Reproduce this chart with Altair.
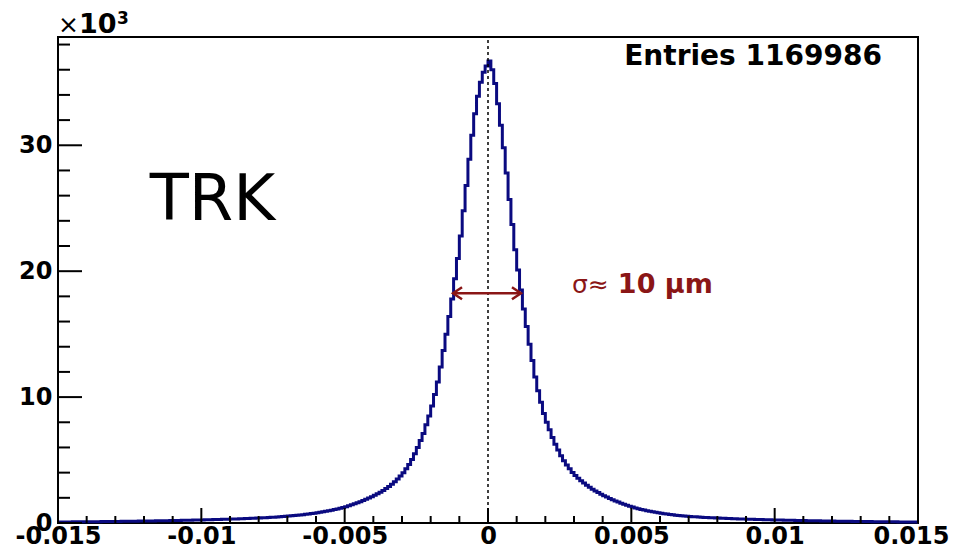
import altair as alt
import pandas as pd

# ---------------- data ----------------
x_min, x_max = -0.015, 0.015
bin_width = 0.0001

# bin contents (thousands of entries), from the bin next to 0 outwards
left_from_center = [
    36.3, 35.8, 35.0, 33.9, 32.5, 30.8, 28.9, 26.8, 24.8, 22.8,
    21.0, 19.4, 17.8, 16.4, 15.0, 13.7, 12.4, 11.2, 10.2, 9.3,
    8.5, 7.8, 7.1, 6.55, 6.0, 5.5, 5.05, 4.65, 4.3, 4.0,
    3.74, 3.5, 3.28, 3.08, 2.9, 2.74, 2.59, 2.45, 2.32, 2.2,
    2.09, 1.98, 1.88, 1.78, 1.69, 1.6, 1.52, 1.44, 1.37, 1.3,
    1.24, 1.18, 1.12, 1.07, 1.02, 0.97, 0.93, 0.89, 0.85, 0.81,
    0.78, 0.75, 0.72, 0.69, 0.66, 0.63, 0.61, 0.59, 0.57, 0.55,
    0.53, 0.51, 0.49, 0.48, 0.46, 0.45, 0.44, 0.42, 0.41, 0.4,
    0.39, 0.38, 0.37, 0.36, 0.35, 0.34, 0.33, 0.325, 0.32, 0.31,
    0.3, 0.295, 0.29, 0.28, 0.275, 0.27, 0.265, 0.26, 0.25, 0.245,
    0.24, 0.235, 0.23, 0.225, 0.22, 0.215, 0.21, 0.205, 0.2, 0.196,
    0.192, 0.188, 0.184, 0.18, 0.176, 0.172, 0.168, 0.164, 0.16, 0.156,
    0.152, 0.149, 0.146, 0.143, 0.14, 0.137, 0.134, 0.131, 0.128, 0.125,
    0.122, 0.119, 0.116, 0.113, 0.11, 0.108, 0.106, 0.104, 0.102, 0.1,
    0.098, 0.096, 0.094, 0.092, 0.09, 0.088, 0.086, 0.084, 0.082, 0.08,
]
right_from_center = [
    36.7, 36.0, 34.9, 33.3, 31.6, 29.8, 27.8, 25.7, 23.7, 21.7,
    20.1, 18.5, 17.0, 15.6, 14.2, 12.9, 11.6, 10.5, 9.6, 8.7,
    8.0, 7.4, 6.8, 6.25, 5.8, 5.35, 4.95, 4.6, 4.3, 4.02,
    3.78, 3.56, 3.36, 3.17, 3.0, 2.84, 2.69, 2.55, 2.42, 2.29,
    2.17, 2.06, 1.95, 1.85, 1.75, 1.66, 1.57, 1.49, 1.41, 1.34,
    1.27, 1.2, 1.14, 1.08, 1.03, 0.98, 0.93, 0.89, 0.85, 0.81,
    0.77, 0.74, 0.71, 0.68, 0.65, 0.62, 0.6, 0.58, 0.56, 0.54,
    0.52, 0.5, 0.49, 0.47, 0.46, 0.44, 0.43, 0.42, 0.41, 0.4,
    0.39, 0.38, 0.37, 0.36, 0.35, 0.34, 0.33, 0.32, 0.315, 0.31,
    0.3, 0.295, 0.29, 0.28, 0.275, 0.27, 0.26, 0.255, 0.25, 0.245,
    0.24, 0.235, 0.23, 0.225, 0.22, 0.215, 0.21, 0.205, 0.2, 0.195,
    0.19, 0.186, 0.182, 0.178, 0.174, 0.17, 0.166, 0.162, 0.158, 0.154,
    0.15, 0.147, 0.144, 0.141, 0.138, 0.135, 0.132, 0.129, 0.126, 0.123,
    0.12, 0.117, 0.114, 0.111, 0.108, 0.105, 0.103, 0.101, 0.099, 0.097,
    0.095, 0.093, 0.091, 0.089, 0.087, 0.085, 0.083, 0.081, 0.08, 0.078,
]

x_major = [-0.015, -0.01, -0.005, 0, 0.005, 0.01, 0.015]
x_minor = [-0.014, -0.013, -0.012, -0.011, -0.009, -0.008, -0.007, -0.006,
           -0.004, -0.003, -0.002, -0.001, 0.001, 0.002, 0.003, 0.004,
           0.006, 0.007, 0.008, 0.009, 0.011, 0.012, 0.013, 0.014]
y_major = [0, 10, 20, 30]
y_minor = [2, 4, 6, 8, 12, 14, 16, 18, 22, 24, 26, 28, 32, 34, 36, 38]
y_top = 38.6

entries_text = "Entries 1169986"
label_text = "TRK"
sigma_sym = "σ≈"
sigma_val = "10 μm"
arrow_x = [-0.00122, 0.00115]
arrow_y = 18.25

# ---------------- build tables ----------------
counts_k = left_from_center[::-1] + right_from_center
edges = [round(x_min + i * bin_width, 6) for i in range(len(counts_k))] + [x_max]
hist = pd.DataFrame({"x": edges, "y": counts_k + [counts_k[-1]]})

W, H = 860, 486
xs = alt.Scale(domain=[x_min, x_max], nice=False, zero=False)
ys = alt.Scale(domain=[0, y_top], nice=False, zero=False)

BLUE = "#0a0a80"
RED = "#8a1616"
FONT = "DejaVu Sans"

x_axis = alt.Axis(values=x_major, labelExpr="datum.value == 0 ? '0' : toString(datum.value)",
                  ticks=False, domain=False, grid=False, labelFont=FONT, labelFontWeight="bold",
                  labelFontSize=24, labelColor="black", labelPadding=1, labelFlush=False,
                  labelOffset={"condition": {"test": "datum.value >= 0.0149", "value": -7}, "value": 0},
                  labelOverlap=False, title=None)
y_axis = alt.Axis(values=y_major, format="d", ticks=False, domain=False, grid=False,
                  labelFont=FONT, labelFontWeight="bold", labelFontSize=24, labelColor="black",
                  labelPadding=6, labelFlush=False, labelOverlap=False, title=None)


def X(field="x"):
    return alt.X(f"{field}:Q", scale=xs, axis=x_axis)


def Y(field="y"):
    return alt.Y(f"{field}:Q", scale=ys, axis=y_axis)


line = alt.Chart(hist).mark_line(interpolate="step-after", color=BLUE, strokeWidth=3).encode(
    x=X(), y=Y())

zero_line = alt.Chart(pd.DataFrame({"x": [0.0], "y": [0.0], "y2": [y_top]})).mark_rule(
    color="black", strokeWidth=1.5, strokeDash=[3, 3]).encode(x=X(), y=Y(), y2="y2:Q")

xt_major = alt.Chart(pd.DataFrame({"x": x_major})).mark_rule(color="black", strokeWidth=2).encode(
    x=X(), y=alt.value(H), y2=alt.value(H - 15))
xt_minor = alt.Chart(pd.DataFrame({"x": x_minor})).mark_rule(color="black", strokeWidth=2).encode(
    x=X(), y=alt.value(H), y2=alt.value(H - 7))
yt_major = alt.Chart(pd.DataFrame({"y": y_major})).mark_rule(color="black", strokeWidth=2).encode(
    y=Y(), x=alt.value(0), x2=alt.value(24))
yt_minor = alt.Chart(pd.DataFrame({"y": y_minor})).mark_rule(color="black", strokeWidth=2).encode(
    y=Y(), x=alt.value(0), x2=alt.value(12))

arrow_df = pd.DataFrame({"x": [arrow_x[0]], "x2": [arrow_x[1]], "y": [arrow_y]})
arrow = alt.Chart(arrow_df).mark_rule(color=RED, strokeWidth=2.5).encode(
    x=X(), x2="x2:Q", y=Y())
head_l = alt.Chart(pd.DataFrame({"x": [arrow_x[0]], "y": [arrow_y]})).mark_point(
    shape="M1.5,-1L0,0L1.5,1", filled=False, color=RED, strokeWidth=2.5, size=144, opacity=1).encode(
    x=X(), y=Y())
head_r = alt.Chart(pd.DataFrame({"x": [arrow_x[1]], "y": [arrow_y]})).mark_point(
    shape="M-1.5,-1L0,0L-1.5,1", filled=False, color=RED, strokeWidth=2.5, size=144, opacity=1).encode(
    x=X(), y=Y())


def text_layer(txt, x, y, **kw):
    return alt.Chart(pd.DataFrame({"x": [x], "y": [y], "t": [txt]})).mark_text(
        baseline="alphabetic", **kw).encode(x=X(), y=Y(), text="t:N")


entries = text_layer(entries_text, 0.01374, 36.35, align="right", font=FONT,
                     fontWeight="bold", fontSize=28, color="black")
trk = text_layer(label_text, -0.0118, 24.05, align="left", font=FONT, fontSize=64, color="black")
sig1 = text_layer(sigma_sym, 0.00293, arrow_y, align="left", font=FONT, fontSize=25, color=RED)
sig2 = text_layer(sigma_val, 0.00453, arrow_y, align="left", font=FONT, fontWeight="bold",
                  fontSize=27, color=RED)


def px_text(txt, x, y, **kw):
    return alt.Chart(pd.DataFrame({"t": [txt]})).mark_text(baseline="alphabetic", align="left", **kw).encode(
        x=alt.value(x), y=alt.value(y), text="t:N")


times = px_text("×", 0, -4, font=FONT, fontSize=25, color="black")
ten = px_text("10", 21, -4, font=FONT, fontWeight="bold", fontSize=27, color="black")
exp3 = px_text("3", 59, -13, font=FONT, fontWeight="bold", fontSize=17, color="black")

chart = alt.layer(line, zero_line, xt_major, xt_minor, yt_major, yt_minor, arrow, head_l, head_r,
                  entries, trk, sig1, sig2, times, ten, exp3).properties(
    width=W, height=H,
    autosize=alt.AutoSizeParams(type="none"),
    padding={"left": 50, "top": 29, "right": 31, "bottom": 26},
    background="white",
).configure_view(stroke="black", strokeWidth=2)

chart.save("out.html", embed_options={"renderer": "svg", "actions": False})
